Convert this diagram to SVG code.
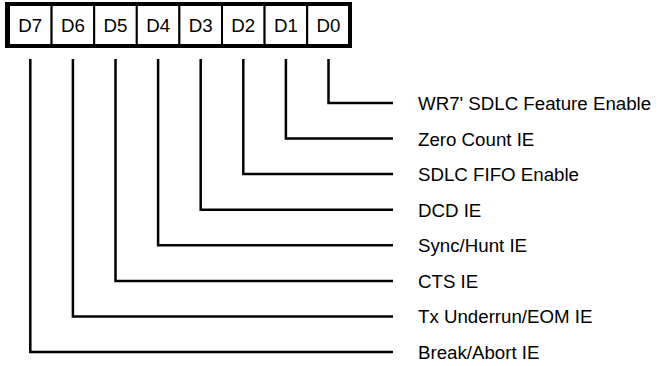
<svg xmlns="http://www.w3.org/2000/svg" width="671" height="366" viewBox="0 0 671 366">
<style>
.cell{fill:#fff;stroke:#000;stroke-width:2}
.outer{fill:none;stroke:#000;stroke-width:4}
.bit{font-family:"Liberation Sans",Arial,sans-serif;font-size:18.7px;fill:#000;text-anchor:middle}
.lbl{font-family:"Liberation Sans",Arial,sans-serif;font-size:18.7px;fill:#000}
.con{fill:none;stroke:#000;stroke-width:2.5}
</style>
<rect width="671" height="366" fill="#fff"/>
<g id="register">
<g id="D7"><rect class="cell" x="9" y="4" width="42.6" height="42"/><text class="bit" x="30.3" y="32">D7</text></g>
<g id="D6"><rect class="cell" x="51.6" y="4" width="42.6" height="42"/><text class="bit" x="72.9" y="32">D6</text></g>
<g id="D5"><rect class="cell" x="94.2" y="4" width="42.6" height="42"/><text class="bit" x="115.5" y="32">D5</text></g>
<g id="D4"><rect class="cell" x="136.8" y="4" width="42.6" height="42"/><text class="bit" x="158.1" y="32">D4</text></g>
<g id="D3"><rect class="cell" x="179.4" y="4" width="42.6" height="42"/><text class="bit" x="200.7" y="32">D3</text></g>
<g id="D2"><rect class="cell" x="222" y="4" width="42.6" height="42"/><text class="bit" x="243.3" y="32">D2</text></g>
<g id="D1"><rect class="cell" x="264.6" y="4" width="42.6" height="42"/><text class="bit" x="285.9" y="32">D1</text></g>
<g id="D0"><rect class="cell" x="307.2" y="4" width="42.6" height="42"/><text class="bit" x="328.5" y="32">D0</text></g>
<rect class="outer" x="7" y="4" width="343" height="42"/>
</g>
<g id="connectors">
<polyline class="con" points="328.5,59 328.5,103 393,103"/>
<polyline class="con" points="285.9,59 285.9,138.6 393,138.6"/>
<polyline class="con" points="243.3,59 243.3,174.1 393,174.1"/>
<polyline class="con" points="200.7,59 200.7,209.7 393,209.7"/>
<polyline class="con" points="158.1,59 158.1,245.3 393,245.3"/>
<polyline class="con" points="115.5,59 115.5,280.9 393,280.9"/>
<polyline class="con" points="72.9,59 72.9,316.4 393,316.4"/>
<polyline class="con" points="30.3,59 30.3,352 393,352"/>
</g>
<g id="labels">
<text class="lbl" x="418" y="110">WR7' SDLC Feature Enable</text>
<text class="lbl" x="418" y="145.6">Zero Count IE</text>
<text class="lbl" x="418" y="181.1">SDLC FIFO Enable</text>
<text class="lbl" x="418" y="216.7">DCD IE</text>
<text class="lbl" x="418" y="252.3">Sync/Hunt IE</text>
<text class="lbl" x="418" y="287.9">CTS IE</text>
<text class="lbl" x="418" y="323.4">Tx Underrun/EOM IE</text>
<text class="lbl" x="418" y="359">Break/Abort IE</text>
</g>
</svg>
